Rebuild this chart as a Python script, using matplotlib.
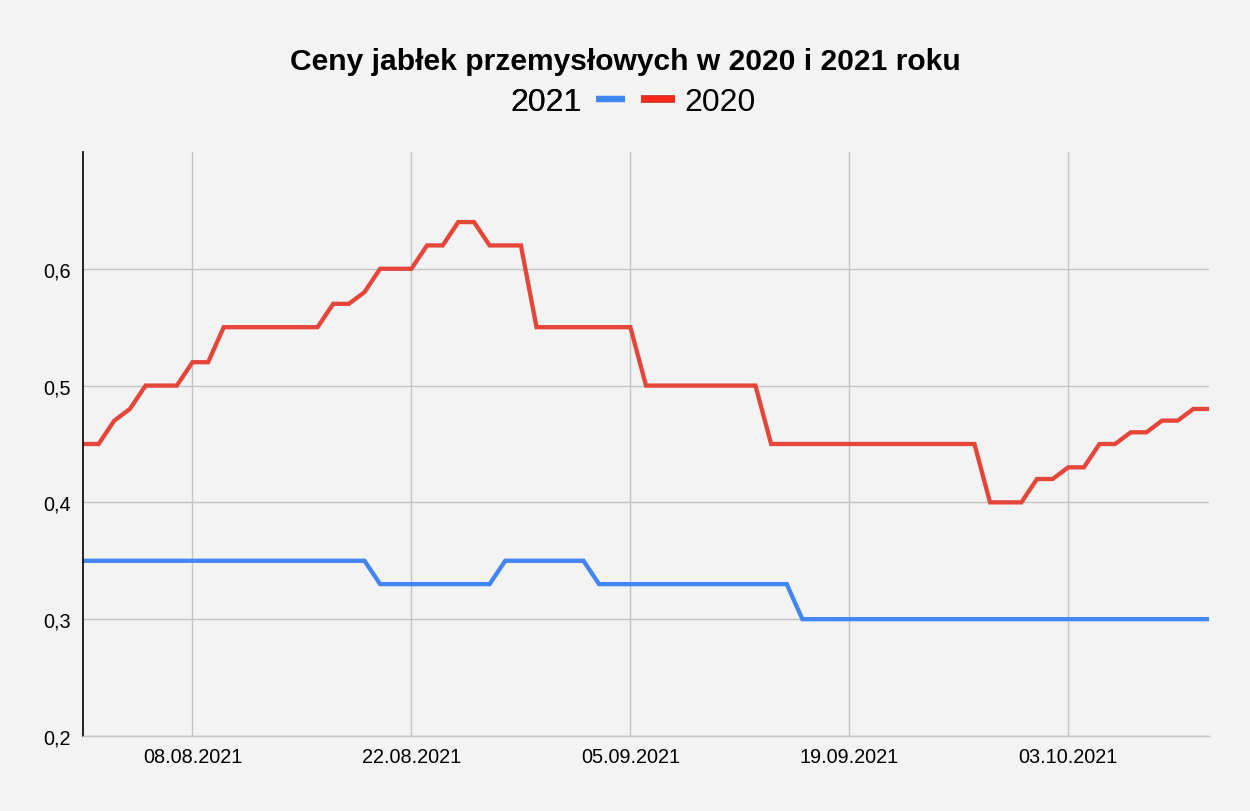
import matplotlib
matplotlib.use("Agg")
import matplotlib.pyplot as plt
import matplotlib.dates as mdates
import matplotlib.patheffects as pe
from matplotlib.lines import Line2D
from matplotlib.ticker import FuncFormatter
import pandas as pd

# Daily observations, 01.08.2021 - 12.10.2021
start_date = "2021-08-01"
n_days = 73
prices_2020 = (
    [0.45, 0.45, 0.47, 0.48, 0.50, 0.50, 0.50, 0.52, 0.52]
    + [0.55] * 7
    + [0.57, 0.57, 0.58, 0.60, 0.60, 0.60, 0.62, 0.62, 0.64, 0.64, 0.62, 0.62, 0.62]
    + [0.55] * 7
    + [0.50] * 8
    + [0.45] * 14
    + [0.40, 0.40, 0.40, 0.42, 0.42, 0.43, 0.43, 0.45, 0.45, 0.46, 0.46, 0.47, 0.47, 0.48, 0.48]
)
prices_2021 = [0.35] * 19 + [0.33] * 8 + [0.35] * 6 + [0.33] * 13 + [0.30] * 27
tick_dates = ["2021-08-08", "2021-08-22", "2021-09-05", "2021-09-19", "2021-10-03"]
y_ticks = [0.2, 0.3, 0.4, 0.5, 0.6]

dates = pd.date_range(start_date, periods=n_days, freq="D")

BG = "#f3f3f3"
BLUE = "#4285f4"
RED = "#e6453a"

plt.rcParams["font.family"] = ["Liberation Sans", "DejaVu Sans"]

fig = plt.figure(figsize=(12.5, 8.12), dpi=100, facecolor=BG)
ax = fig.add_axes([0.0664, 0.0924, 0.9008, 0.7192], facecolor=BG)

ax.plot(dates, prices_2021, color=BLUE, linewidth=3.1, solid_joinstyle="miter")
ax.plot(dates, prices_2020, color=RED, linewidth=3.1, solid_joinstyle="miter")

ax.set_xlim(dates[0], dates[-1])
ax.set_ylim(0.2, 0.7)
ax.set_yticks(y_ticks)
ax.yaxis.set_major_formatter(FuncFormatter(lambda v, _: f"{v:.1f}".replace(".", ",")))
ax.set_xticks(pd.to_datetime(tick_dates))
ax.xaxis.set_major_formatter(mdates.DateFormatter("%d.%m.%Y"))
ax.tick_params(axis="both", length=0, labelsize=14.3, colors="#000000")
ax.tick_params(axis="y", pad=9)
ax.tick_params(axis="x", pad=8)

ax.grid(True, color="#c4c4c4", linewidth=1)
ax.set_axisbelow(True)
for side in ("top", "right"):
    ax.spines[side].set_visible(False)
ax.spines["left"].set_color("#000000")
ax.spines["left"].set_linewidth(1.2)
ax.spines["bottom"].set_color("#c4c4c4")
ax.spines["bottom"].set_linewidth(1)

fig.text(0.5, 0.924, "Ceny jabłek przemysłowych w 2020 i 2021 roku",
         ha="center", va="center", fontsize=21.6, fontweight="bold")

# legend: label before the blue handle, label after the red handle
h_2021 = Line2D([], [], color=BLUE, linewidth=4.5, solid_capstyle="butt")
h_2020 = Line2D([], [], color="#ff2a1a", linewidth=4.0, solid_capstyle="butt",
                path_effects=[pe.Stroke(linewidth=5.5, foreground="#c8281e"), pe.Normal()])
leg1 = fig.legend([h_2021], ["2021"], loc="center right", bbox_to_anchor=(0.5, 0.873),
                  markerfirst=False, frameon=False, fontsize=23, handlelength=0.9,
                  handletextpad=0.45, borderpad=0, borderaxespad=0)
fig.add_artist(leg1)
fig.legend([h_2020], ["2020"], loc="center left", bbox_to_anchor=(0.513, 0.873),
           frameon=False, fontsize=23, handlelength=1.05,
           handletextpad=0.3, borderpad=0, borderaxespad=0)

fig.savefig("out.png", dpi=100, facecolor=BG)
